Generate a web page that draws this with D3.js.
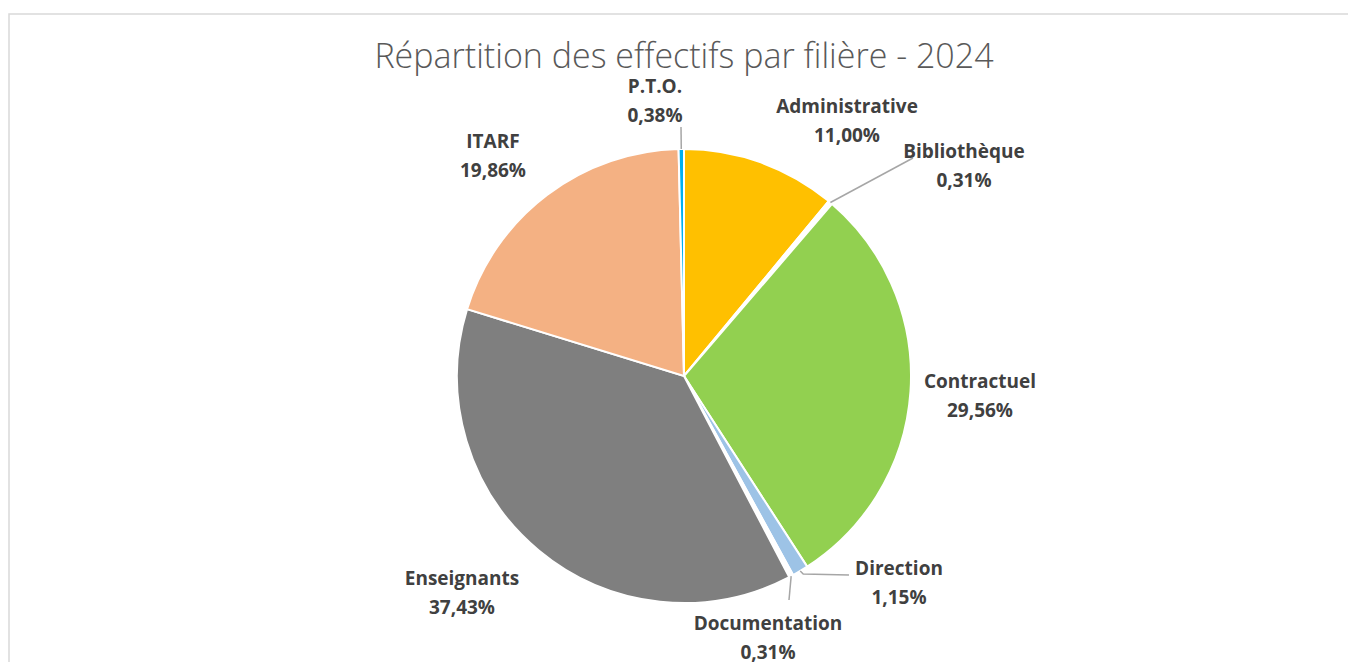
<!DOCTYPE html>
<html>
<head>
<meta charset="utf-8">
<script src="https://cdn.jsdelivr.net/npm/d3@7"></script>
<style>
  body { margin: 0; background: #fff; }
  .title { font-family: "Open Sans", sans-serif; font-weight: 300; fill: #595959; }
  .label { font-family: "Open Sans", sans-serif; font-weight: bold; fill: #404040; }
</style>
</head>
<body>
<div id="chart"></div>
<script>
// Data
var categories = ["Administrative", "Bibliothèque", "Contractuel", "Direction", "Documentation", "Enseignants", "ITARF", "P.T.O."];
var shares = [11.00, 0.31, 29.56, 1.15, 0.31, 37.43, 19.86, 0.38];
var valueLabels = ["11,00%", "0,31%", "29,56%", "1,15%", "0,31%", "37,43%", "19,86%", "0,38%"];
var colors = ["#FFC000", "#FFFFFF", "#92D050", "#9DC3E6", "#FFFFFF", "#7F7F7F", "#F4B183", "#00B0F0"];

// Label placement (offsets from pie centre), and which slices get a leader line
var labelPos = [[163, -256], [280, -211], [296, 19], [215, 206], [84, 261], [-222, 216], [-191, -221], [-29, -276]];
var leaderEnd = [null, [229, -218], null, [165, 199], null, null, null, [-3, -249]];
var leaderEnd2 = [null, null, null, null, [105, 224], null, null, null];

var svgWidth = 1348;
var svgHeight = 662;
var cx = 684, cy = 376, radius = 227;

var svg = d3.select("#chart")
  .append("svg")
  .attr("width", svgWidth)
  .attr("height", svgHeight);

// chart area border
svg.append("rect")
  .attr("x", 9).attr("y", 14)
  .attr("width", svgWidth + 20).attr("height", svgHeight + 20)
  .attr("fill", "none")
  .attr("stroke", "#d9d9d9")
  .attr("stroke-width", 1.5);

svg.append("text")
  .attr("class", "title")
  .attr("x", cx)
  .attr("y", 68)
  .attr("text-anchor", "middle")
  .style("font-size", "34px")
  .text("Répartition des effectifs par filière - 2024");

var data = categories.map(function(c, i) {
  return { name: c, value: shares[i], label: valueLabels[i], color: colors[i], i: i };
});

var pie = d3.pie().sort(null).value(d => d.value);
var arcs = pie(data);

var arc = d3.arc().innerRadius(0).outerRadius(radius);
var edgeArc = d3.arc().innerRadius(radius).outerRadius(radius);

var g = svg.append("g").attr("transform", `translate(${cx}, ${cy})`);

g.selectAll("path.slice")
  .data(arcs)
  .enter()
  .append("path")
  .attr("class", "slice")
  .attr("d", arc)
  .attr("fill", d => d.data.color)
  .attr("stroke", "#fff")
  .attr("stroke-width", 2);

// leader lines
arcs.forEach(function(d) {
  var i = d.data.i;
  var end = leaderEnd[i] || leaderEnd2[i];
  if (!end) return;
  var start = edgeArc.centroid(d);
  var pts = [start, end];
  if (i === 3) pts = [start, [start[0] + 3, 198], end];
  g.append("path")
    .attr("d", d3.line()(pts))
    .attr("fill", "none")
    .attr("stroke", "#a6a6a6")
    .attr("stroke-width", 1.5);
});

// labels
var labels = g.selectAll("text.label")
  .data(arcs)
  .enter()
  .append("text")
  .attr("class", "label")
  .attr("text-anchor", "middle")
  .style("font-size", "19px")
  .attr("transform", d => `translate(${labelPos[d.data.i][0]}, ${labelPos[d.data.i][1]})`);

labels.append("tspan")
  .attr("x", 0)
  .attr("y", -7)
  .text(d => d.data.name);

labels.append("tspan")
  .attr("x", 0)
  .attr("y", 22)
  .text(d => d.data.label);
</script>
</body>
</html>
